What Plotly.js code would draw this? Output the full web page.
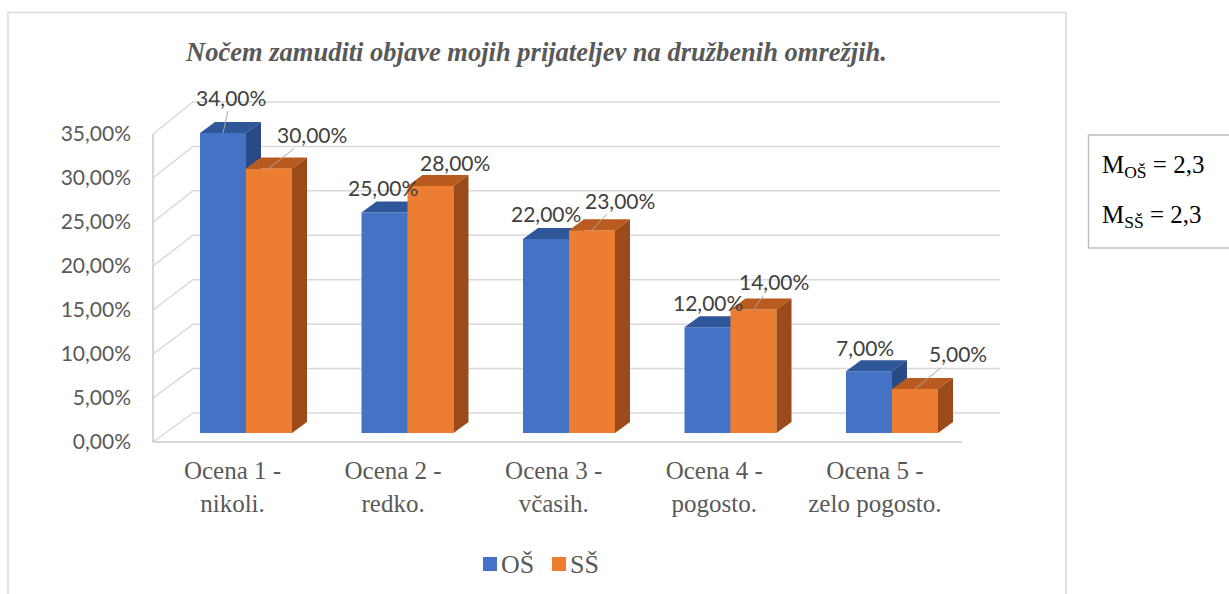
<!DOCTYPE html>
<html>
<head>
<meta charset="utf-8">
<script src="https://cdn.plot.ly/plotly-3.0.1.min.js"></script>
<style>html,body{margin:0;padding:0;background:#fff;}#chart{width:1229px;height:594px;}</style>
</head>
<body>
<div id="chart"></div>
<script>
// ---------- data ----------
const titleText = 'Nočem zamuditi objave mojih prijateljev na družbenih omrežjih.';
const categories = ['Ocena 1 -<br>nikoli.', 'Ocena 2 -<br>redko.', 'Ocena 3 -<br>včasih.', 'Ocena 4 -<br>pogosto.', 'Ocena 5 -<br>zelo pogosto.'];
const seriesNames = ['OŠ', 'SŠ'];
const valuesOS = [34, 25, 22, 12, 7];
const valuesSS = [30, 28, 23, 14, 5];
const yTickValues = [0, 5, 10, 15, 20, 25, 30, 35];
const meanOS = '2,3';
const meanSS = '2,3';

// ---------- style / geometry ----------
const W = 1229, H = 594;
const PL = 140, PR = 1010, PT = 80, PB = 455;       // plot area in px
const X0 = 246, XS = 161.5;                           // bar plane: category 0 centre, px per category
const Y0 = 433, YS = 8.82;                            // bar plane: 0 % baseline, px per %
const BAR_PX = 46, DEPTH_DX = 15, DEPTH_DY = 11;
const colors = {
  os: {front: '#4472C4', top: '#30569A', side: '#294A86'},
  ss: {front: '#ED7D31', top: '#B95B1E', side: '#9B4B1A'}
};
// data-label offsets (px) relative to the top centre of each bar, and whether a leader line is drawn
const labelOffsetsOS = [[8, -36, true], [-2, -25, false], [0, -25, false], [0, -25, false], [-4, -24, false]];
const labelOffsetsSS = [[43, -34, true], [24, -24, false], [28, -30, true], [20, -28, true], [43, -35, true]];
// legend placement (px): left edge of each swatch, swatch size, text centre line
const legendSwatchPx = [483, 552];
const LEGEND_SW = 14, LEGEND_CY = 564;

const pxToX = px => (px - X0) / XS;
const pyToY = py => (Y0 - py) / YS;
const paperX = px => (px - PL) / (PR - PL);
const paperY = py => (PB - py) / (PB - PT);
// front plane and back wall of the 3-D frame
const frontPy = v => 442 - 8.8 * v;
const backPy = v => 413 - 8.886 * v;
const frontLabelPx = i => 232.5 + 160.6 * i;

const fmt = v => v.toFixed(2).replace('.', ',') + '%';
const bw = BAR_PX / XS, ddx = DEPTH_DX / XS, ddy = DEPTH_DY / YS;

const traces = [];

// gridlines (side wall + back wall)
const gx = [], gy = [];
yTickValues.forEach(v => {
  gx.push(pxToX(153), pxToX(193), pxToX(1000), null);
  gy.push(pyToY(frontPy(v)), pyToY(backPy(v)), pyToY(backPy(v)), null);
});
traces.push({type: 'scatter', mode: 'lines', x: gx, y: gy, line: {color: '#D9D9D9', width: 1.5},
  hoverinfo: 'skip', showlegend: false});
// front axis line and floor front edge
traces.push({type: 'scatter', mode: 'lines',
  x: [pxToX(153), pxToX(153), null, pxToX(153), pxToX(962)],
  y: [pyToY(frontPy(35)), pyToY(frontPy(0)), null, pyToY(frontPy(0)), pyToY(frontPy(0))],
  line: {color: '#C9C9C9', width: 1.5}, hoverinfo: 'skip', showlegend: false});

function faces(values, offset, col, name) {
  const f = {x: [], y: []}, t = {x: [], y: []}, s = {x: [], y: []};
  values.forEach((v, i) => {
    const l = i + offset, r = l + bw;
    f.x.push(l, r, r, l, l, null); f.y.push(0, 0, v, v, 0, null);
    t.x.push(l, r, r + ddx, l + ddx, l, null); t.y.push(v, v, v + ddy, v + ddy, v, null);
    s.x.push(r, r, r + ddx, r + ddx, r, null); s.y.push(0, v, v + ddy, ddy, 0, null);
  });
  [[f, col.front], [t, col.top], [s, col.side]].forEach(([d, c]) => {
    traces.push({type: 'scatter', mode: 'lines', x: d.x, y: d.y, fill: 'toself', fillcolor: c,
      line: {width: 0, color: c}, hoverinfo: 'skip', showlegend: false, name: name});
  });
}
faces(valuesOS, -bw, colors.os, seriesNames[0]);
faces(valuesSS, 0, colors.ss, seriesNames[1]);

// data labels
const annotations = [];
function labels(values, offset, offs) {
  values.forEach((v, i) => {
    const cx = i + offset + bw / 2;
    const [ox, oy, leader] = offs[i];
    const a = {x: cx, y: v, xref: 'x', yref: 'y', text: fmt(v),
      font: {family: 'Lato', size: 21, color: '#404040'}};
    if (leader) {
      Object.assign(a, {showarrow: true, ax: ox, ay: oy, arrowhead: 0, arrowwidth: 1,
        arrowcolor: '#A6A6A6', standoff: 0});
    } else {
      Object.assign(a, {showarrow: false, xshift: ox, yshift: -oy, xanchor: 'center', yanchor: 'middle'});
    }
    annotations.push(a);
  });
}
labels(valuesOS, -bw, labelOffsetsOS);
labels(valuesSS, 0, labelOffsetsSS);

// mean box text
annotations.push({xref: 'paper', yref: 'paper', x: paperX(1100), y: paperY(166), xanchor: 'left', yanchor: 'middle',
  showarrow: false, text: 'M<sub>OŠ</sub> = ' + meanOS, font: {family: 'Liberation Serif', size: 25, color: '#000000'}});
annotations.push({xref: 'paper', yref: 'paper', x: paperX(1100), y: paperY(216), xanchor: 'left', yanchor: 'middle',
  showarrow: false, text: 'M<sub>SŠ</sub> = ' + meanSS, font: {family: 'Liberation Serif', size: 25, color: '#000000'}});

// legend (drawn manually: swatch + name)
const shapes = [
  {type: 'rect', xref: 'paper', yref: 'paper', x0: paperX(8), x1: paperX(1066), y0: paperY(600), y1: paperY(12.5),
    line: {color: '#D9D9D9', width: 1.5}, layer: 'below'},
  {type: 'rect', xref: 'paper', yref: 'paper', x0: paperX(1088.5), x1: paperX(1245), y0: paperY(248), y1: paperY(135),
    line: {color: '#BFBFBF', width: 1.5}, layer: 'below'}
];
[colors.os.front, colors.ss.front].forEach((c, k) => {
  const x0 = legendSwatchPx[k];
  shapes.push({type: 'rect', xref: 'paper', yref: 'paper', x0: paperX(x0), x1: paperX(x0 + LEGEND_SW),
    y0: paperY(LEGEND_CY + LEGEND_SW / 2), y1: paperY(LEGEND_CY - LEGEND_SW / 2),
    line: {width: 0}, fillcolor: c});
  annotations.push({xref: 'paper', yref: 'paper', x: paperX(x0 + LEGEND_SW + 2), y: paperY(LEGEND_CY),
    xanchor: 'left', yanchor: 'middle', showarrow: false, text: seriesNames[k],
    font: {family: 'Liberation Serif', size: 26, color: '#595959'}});
});

const layout = {
  width: W, height: H,
  margin: {l: PL, r: W - PR, t: PT, b: H - PB, pad: 0},
  paper_bgcolor: '#ffffff', plot_bgcolor: 'rgba(0,0,0,0)',
  title: {text: '<b><i>' + titleText + '</i></b>', xref: 'container', yref: 'container',
    x: 536.5 / W, xanchor: 'center', y: 1 - 52 / H, yanchor: 'middle',
    font: {family: 'Liberation Serif', size: 26.5, color: '#595959'}},
  xaxis: {range: [pxToX(PL), pxToX(PR)], showgrid: false, zeroline: false, showline: false, ticks: '',
    tickvals: categories.map((c, i) => pxToX(frontLabelPx(i))), ticktext: categories,
    tickfont: {family: 'Liberation Serif', size: 25, color: '#595959'}, ticklabelstandoff: -2, fixedrange: true},
  yaxis: {range: [pyToY(PB), pyToY(PT)], showgrid: false, zeroline: false, showline: false, ticks: '',
    tickvals: yTickValues.map(v => pyToY(frontPy(v))), ticktext: yTickValues.map(fmt),
    tickfont: {family: 'Lato', size: 21, color: '#595959'}, ticklabelstandoff: 8, fixedrange: true},
  showlegend: false,
  shapes: shapes,
  annotations: annotations
};

Plotly.newPlot('chart', traces, layout, {displayModeBar: false, staticPlot: true});
</script>
</body>
</html>
